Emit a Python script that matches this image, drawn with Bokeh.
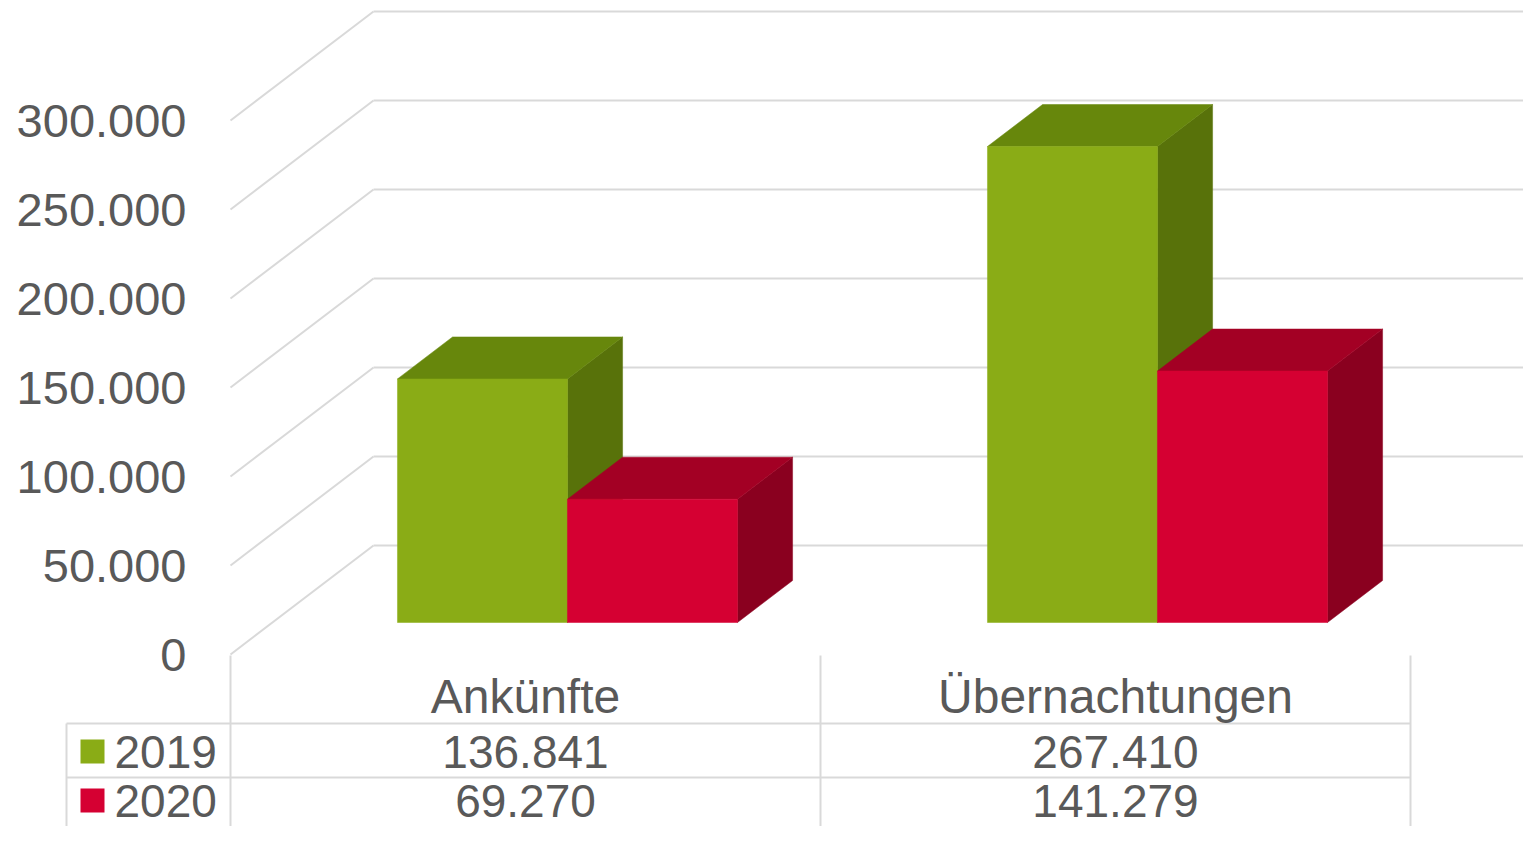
from bokeh.plotting import figure
from bokeh.models import Range1d
from bokeh.embed import file_html
from bokeh.resources import INLINE
from bokeh.core.properties import value

# ---------------- data ----------------
categories = ["Ankünfte", "Übernachtungen"]
series_names = ["2019", "2020"]
values_2019 = [136841, 267410]
values_2020 = [69270, 141279]
y_ticks = [0, 50000, 100000, 150000, 200000, 250000, 300000]

# ---------------- style ----------------
FRONT_C = ["#8aac16", "#d50032"]
TOP_C = ["#67870c", "#a30024"]
SIDE_C = ["#58720a", "#8a001f"]
TEXT_C = "#595959"
GRID_C = "#d9d9d9"
FONT = "Liberation Sans"

W, H = 1523, 826
PX_PER_50K = 89.0
K = 50000.0 / PX_PER_50K     # value units per pixel
CAT_PX = 590.0               # width of one category (px)
X0_PX = 230.0                # left of plot area (front plane)
Y0_PX = 654.0                # zero line (front plane)


def xu(X):
    return (X - X0_PX) / CAT_PX


def yv(Y):
    return (Y0_PX - Y) * K


def fmt(v):
    return f"{v:,}".replace(",", ".")


# depth projection
DX = 143.0 / CAT_PX
DY = 109.0 * K
D1 = 32.0 / 109.0
D2 = 74.0 / 109.0
BW = 170.0 / CAT_PX

p = figure(width=W, height=H,
           x_range=Range1d(xu(0), xu(W)),
           y_range=Range1d(yv(H), yv(0)),
           output_backend="svg", toolbar_location=None, min_border=0)
p.axis.visible = False
p.grid.visible = False
p.outline_line_color = None
p.background_fill_color = "white"
p.border_fill_color = "white"

# ---------------- walls / gridlines ----------------
side_xs, side_ys, back_xs, back_ys = [], [], [], []
for v in y_ticks:
    side_xs.append([0.0, DX])
    side_ys.append([v, v + DY])
    back_xs.append([DX, xu(1560)])
    back_ys.append([v + DY, v + DY])
p.multi_line(side_xs, side_ys, line_color=GRID_C, line_width=2)
p.multi_line(back_xs, back_ys, line_color=GRID_C, line_width=2)

# ---------------- 3D bars ----------------
series_vals = [values_2019, values_2020]
for s, vals in enumerate(series_vals):
    fx, fy, tx, ty, sx, sy = [], [], [], [], [], []
    for i, v in enumerate(vals):
        x0 = i + 0.5 - BW + s * BW + D1 * DX
        x1 = x0 + BW
        b = D1 * DY
        t = b + v
        ddx = (D2 - D1) * DX
        ddy = (D2 - D1) * DY
        fx.append([x0, x1, x1, x0]); fy.append([b, b, t, t])
        tx.append([x0, x1, x1 + ddx, x0 + ddx]); ty.append([t, t, t + ddy, t + ddy])
        sx.append([x1, x1 + ddx, x1 + ddx, x1]); sy.append([b, b + ddy, t + ddy, t])
    p.patches(sx, sy, fill_color=SIDE_C[s], line_color=SIDE_C[s], line_width=0.5)
    p.patches(tx, ty, fill_color=TOP_C[s], line_color=TOP_C[s], line_width=0.5)
    p.patches(fx, fy, fill_color=FRONT_C[s], line_color=FRONT_C[s], line_width=0.5)

# ---------------- y tick labels ----------------
p.text(x=[xu(186)] * len(y_ticks), y=y_ticks, text=[fmt(v) for v in y_ticks],
       text_font=value(FONT), text_font_size="47px", text_color=TEXT_C,
       text_align="right", text_baseline="middle")

# ---------------- data table ----------------
ROW_Y = [751, 800]
tbl_xs, tbl_ys = [], []
for X in [230, 820, 1410]:
    tbl_xs.append([xu(X), xu(X)]); tbl_ys.append([yv(655), yv(860)])
tbl_xs.append([xu(66), xu(66)]); tbl_ys.append([yv(723), yv(860)])
for Y in [723, 777]:
    tbl_xs.append([xu(66), xu(1410)]); tbl_ys.append([yv(Y), yv(Y)])
p.multi_line(tbl_xs, tbl_ys, line_color=GRID_C, line_width=2)

cat_x = [i + 0.5 for i in range(len(categories))]
p.text(x=cat_x, y=[yv(696)] * len(categories), text=categories,
       text_font=value(FONT), text_font_size="48px", text_color=TEXT_C,
       text_align="center", text_baseline="middle")

for s, vals in enumerate(series_vals):
    p.text(x=cat_x, y=[yv(ROW_Y[s])] * len(vals), text=[fmt(v) for v in vals],
           text_font=value(FONT), text_font_size="46px", text_color=TEXT_C,
           text_align="center", text_baseline="middle")
    p.scatter(x=[xu(92)], y=[yv(ROW_Y[s])], marker="square", size=24,
              fill_color=FRONT_C[s], line_color=None)
    p.text(x=[xu(114)], y=[yv(ROW_Y[s])], text=[series_names[s]],
           text_font=value(FONT), text_font_size="46px", text_color=TEXT_C,
           text_align="left", text_baseline="middle")

open("out.html", "w").write(file_html(p, INLINE))
